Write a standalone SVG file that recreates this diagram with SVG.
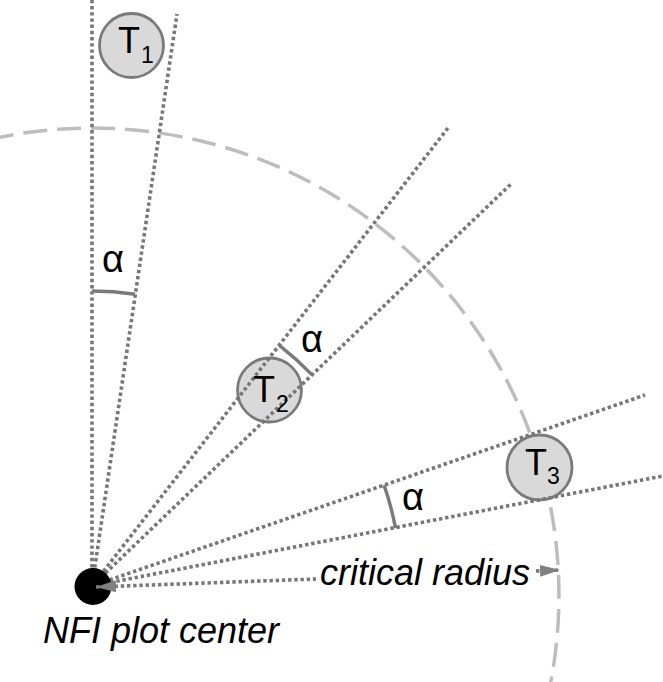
<svg xmlns="http://www.w3.org/2000/svg" width="663" height="682" viewBox="0 0 663 682">
  <style>
    .bg { fill: #ffffff; }
    .plot { fill: none; stroke: #bdbdbd; stroke-width: 3.5; stroke-dasharray: 24 10; }
    .ray { fill: none; stroke: #777777; stroke-width: 3.6; stroke-dasharray: 3.4 2.8; }
    .angle { fill: none; stroke: #7a7a7a; stroke-width: 3.4; }
    .tree circle { fill: #d9d9d9; stroke: #7a7a7a; stroke-width: 2.8; }
    .lbl { font-family: "Liberation Sans", Arial, sans-serif; fill: #000; }
    .big { font-size: 36px; }
    .sub { font-size: 23px; }
    .it { font-size: 36px; font-style: italic; }
    .alpha { font-size: 38px; }
  </style>
  <defs>
    <marker id="arr" markerUnits="userSpaceOnUse" markerWidth="20" markerHeight="12" refX="20" refY="6" orient="auto-start-reverse">
      <path d="M0,0 L20,6 L0,12 z" fill="#808080"/>
    </marker>
  </defs>
  <rect class="bg" x="0" y="0" width="663" height="682"/>

  <!-- critical radius boundary -->
  <path id="plot-boundary" class="plot" d="M -10 139.3 A 467 467 0 0 1 547 700"/>

  <!-- trees -->
  <g id="T1" class="tree"><circle cx="131.5" cy="45.5" r="32"/></g>
  <g id="T2" class="tree"><circle cx="269.5" cy="390" r="32"/></g>
  <g id="T3" class="tree"><circle cx="539.5" cy="467.5" r="32.5"/></g>

  <!-- connectors -->
  <g id="connectors">
    <line class="ray" x1="92" y1="586" x2="92" y2="0"/>
    <line class="ray" x1="92" y1="586" x2="177" y2="14"/>
    <line class="ray" x1="92" y1="586" x2="448" y2="128"/>
    <line class="ray" x1="92" y1="586" x2="512" y2="183"/>
    <line class="ray" x1="92" y1="586" x2="645" y2="395"/>
    <line class="ray" x1="92" y1="586" x2="663" y2="476"/>
    <path class="angle" d="M 92 291 A 295 295 0 0 1 135.1 294.2"/>
    <path class="angle" d="M 279.4 345.3 A 305 305 0 0 1 312.1 374.9"/>
    <path class="angle" d="M 384.1 485.1 A 309 309 0 0 1 395.5 528.1"/>
  </g>

  <!-- plot center -->
  <g id="center">
    <circle cx="93" cy="586.5" r="18.5" fill="#000"/>
    <text class="lbl it" x="43" y="643">NFI plot center</text>
  </g>

  <!-- critical radius arrow -->
  <g id="radius">
    <line class="ray" x1="96" y1="587" x2="316" y2="579" marker-start="url(#arr)"/>
    <line class="ray" x1="536" y1="571" x2="560" y2="570" marker-end="url(#arr)"/>
    <text class="lbl it" x="320" y="585">critical radius</text>
  </g>

  <!-- tree labels -->
  <g id="T1-label"><text class="lbl big" x="118" y="53">T</text><text class="lbl sub" x="141" y="63">1</text></g>
  <g id="T2-label"><text class="lbl big" x="253" y="402">T</text><text class="lbl sub" x="276" y="412">2</text></g>
  <g id="T3-label"><text class="lbl big" x="525" y="475">T</text><text class="lbl sub" x="547" y="484">3</text></g>

  <!-- angle labels -->
  <g id="alpha-labels">
    <text class="lbl alpha" x="102" y="272">α</text>
    <text class="lbl alpha" x="301" y="352">α</text>
    <text class="lbl alpha" x="402" y="510">α</text>
  </g>
</svg>
